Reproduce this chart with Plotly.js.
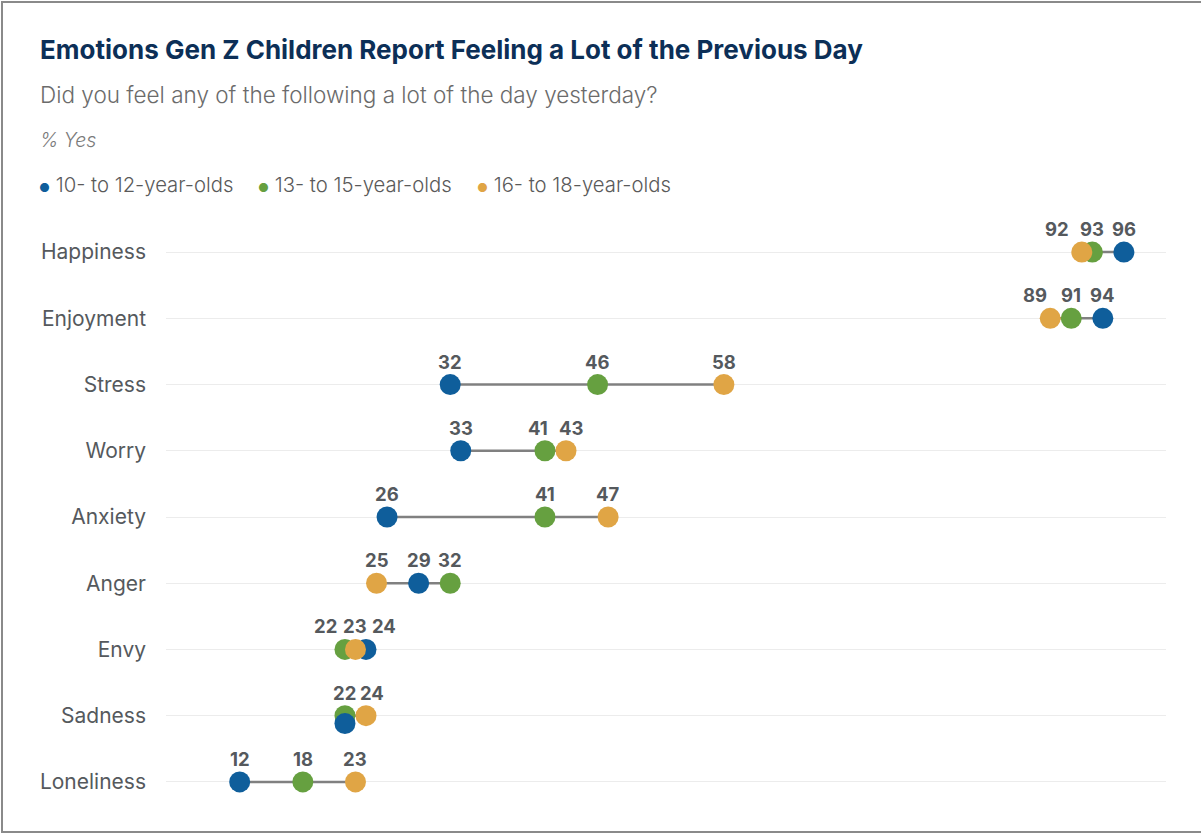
<!DOCTYPE html>
<html>
<head>
<meta charset="utf-8">
<script src="https://cdn.plot.ly/plotly-3.0.1.min.js"></script>
<style>
  html, body { margin: 0; padding: 0; background: #ffffff; overflow: hidden; }
  #chart { position: absolute; left: 0; top: 0; width: 1201px; height: 833px; }
  #frame { position: absolute; left: 1px; top: 1px; width: 1230px; height: 828px;
           border: 2px solid #8a8a8a; pointer-events: none; }
</style>
</head>
<body>
<div id="chart"></div>
<div id="frame"></div>
<script>
// Emotions, top to bottom
const emotions = ["Happiness", "Enjoyment", "Stress", "Worry", "Anxiety", "Anger", "Envy", "Sadness", "Loneliness"];

// % Yes by age group
const age10to12 = [96, 94, 32, 33, 26, 29, 24, 22, 12];
const age13to15 = [93, 91, 46, 41, 41, 32, 22, 22, 18];
const age16to18 = [92, 89, 58, 43, 47, 25, 23, 24, 23];

const seriesNames = ["10- to 12-year-olds", "13- to 15-year-olds", "16- to 18-year-olds"];

// ---- styling ----
const FONT = "Inter, 'Noto Sans', sans-serif";
const COLORS = { blue: "#0f5e9b", green: "#66a040", orange: "#e0a545" };
const W = 1201, H = 833;
const M = { l: 166, r: 35, t: 219, b: 18 };
const plotW = W - M.l - M.r, plotH = H - M.t - M.b;

// value-label nudges (px) where neighbouring dots crowd each other
const labelShift = {
  Happiness: { orange: -25 },
  Enjoyment: { orange: -15 },
  Worry: { green: -7, orange: 5 },
  Envy: { green: -19, blue: 18 },
  Sadness: { orange: 6 }
};
// vertical nudge (row units) for a dot that would hide another
const dotNudge = { Sadness: { blue: 0.12 } };

const rows = emotions.map((_, i) => i);
const series = [
  { key: "green", name: seriesNames[1], vals: age13to15 },
  { key: "blue", name: seriesNames[0], vals: age10to12 },
  { key: "orange", name: seriesNames[2], vals: age16to18 }
];

// connector lines from lowest to highest value in each row
const lx = [], ly = [];
emotions.forEach((e, i) => {
  const v = [age10to12[i], age13to15[i], age16to18[i]];
  lx.push(Math.min(...v), Math.max(...v), null);
  ly.push(i, i, null);
});

const traces = [{
  type: "scatter", mode: "lines", x: lx, y: ly,
  line: { color: "#808080", width: 2.5 }, hoverinfo: "skip", showlegend: false
}];

series.forEach(s => {
  traces.push({
    type: "scatter", mode: "markers", name: s.name,
    x: s.vals,
    y: rows.map(i => i + ((dotNudge[emotions[i]] || {})[s.key] || 0)),
    marker: { color: COLORS[s.key], size: 21, line: { width: 0 } },
    hoverinfo: "skip", showlegend: false
  });
});

// value labels, one per distinct value in a row
const annotations = [];
emotions.forEach((e, i) => {
  const seen = new Set();
  ["blue", "green", "orange"].forEach(k => {
    const s = series.find(q => q.key === k);
    const v = s.vals[i];
    if (seen.has(v)) return;
    seen.add(v);
    annotations.push({
      x: v, y: i, xref: "x", yref: "y", text: String(v), showarrow: false,
      yshift: 23, xshift: (labelShift[e] || {})[k] || 0,
      font: { family: FONT, size: 18.5, color: "#55595d", weight: 700 }
    });
  });
});

// header texts placed in page pixels
const px = x => (x - M.l) / plotW;
const py = y => 1 - (y - M.t) / plotH;
function header(text, x, y, font) {
  annotations.push({ text, x: px(x), y: py(y), xref: "paper", yref: "paper",
    xanchor: "left", yanchor: "middle", showarrow: false, font });
}
header("Emotions Gen Z Children Report Feeling a Lot of the Previous Day", 38, 49,
  { family: FONT, size: 26, color: "#0c2f57", weight: 700 });
header("Did you feel any of the following a lot of the day yesterday?", 38, 95,
  { family: FONT, size: 22.5, color: "#6b6b6b", weight: 300 });
header("<i>% Yes</i>", 38, 140, { family: FONT, size: 19.5, color: "#7a7a7a", weight: 300 });

const legendX = [37, 256, 475];
["blue", "green", "orange"].forEach((k, j) => {
  const s = series.find(q => q.key === k);
  header('<span style="font-size:12px;fill:' + COLORS[k] + '">●</span> ' + s.name,
    legendX[j], 184, { family: FONT, size: 20.3, color: "#5a5a5a", weight: 300 });
});

const layout = {
  width: W, height: H,
  margin: M,
  paper_bgcolor: "#ffffff", plot_bgcolor: "#ffffff",
  showlegend: false, hovermode: false,
  xaxis: { range: [5, 100], showgrid: false, zeroline: false, showticklabels: false,
           showline: false, ticks: "" },
  yaxis: { range: [8.5, -0.5], tickmode: "array", tickvals: rows, ticktext: emotions,
           showgrid: true, gridcolor: "#ececec", gridwidth: 1, zeroline: false,
           showline: false, ticks: "", ticklabelstandoff: 19,
           tickfont: { family: FONT, size: 21, color: "#55595d" } },
  annotations
};

Plotly.newPlot("chart", traces, layout, { displayModeBar: false, staticPlot: true });
</script>
</body>
</html>
